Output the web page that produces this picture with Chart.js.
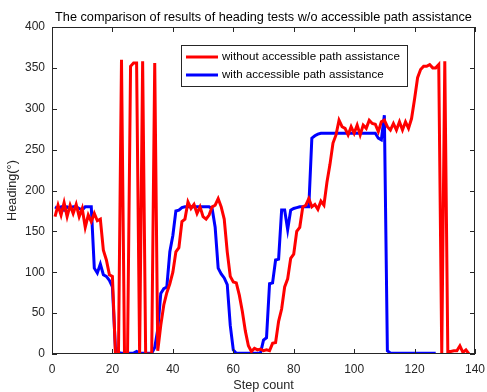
<!DOCTYPE html>
<html>
<head>
<meta charset="utf-8">
<script src="https://cdn.jsdelivr.net/npm/chart.js@4.4.1/dist/chart.umd.min.js"></script>
<style>
  html, body { margin: 0; padding: 0; background: #fff; }
  canvas { display: block; }
</style>
</head>
<body>
<canvas id="headingChart" width="487" height="392"></canvas>
<script>
const titleText = 'The comparison of results of heading tests w/o accessible path assistance';
const xLabel = 'Step count';
const yLabel = 'Heading(°)';

// heading readings, one per step starting at step 1
const withoutAssist = [
  168, 182, 170, 185, 168, 182, 172, 183, 168, 178,
  155, 170, 162, 172, 163, 165, 127, 115, 97, 95,
  0, 0, 360, 0, 0, 352, 356, 356, 0, 358,
  0, 0, 0, 356, 4, 35, 60, 75, 86, 100,
  125, 130, 162, 165, 186, 178, 183, 172, 180, 168,
  165, 170, 180, 182, 190, 180, 165, 125, 95, 88,
  87, 72, 52, 28, 10, 3, 7, 5, 6, 4,
  5, 4, 13, 14, 40, 55, 82, 92, 117, 122,
  150, 155, 180, 182, 190, 180, 183, 177, 187, 182,
  210, 232, 258, 268, 286, 278, 276, 268, 278, 270,
  280, 268, 280, 276, 286, 282, 281, 272, 284, 286,
  278, 274, 282, 274, 284, 274, 284, 276, 288, 312,
  338, 348, 352, 352, 354, 350, 350, 354, 0, 358,
  3, 3, 4, 4, 10, 2, 5, 0
];

const withAssist = [
  180, 178, 180, 176, 180, 178, 180, 180, 178, 176,
  180, 180, 180, 105, 99, 110, 97, 95, 90, 82,
  6, 2, 1, 1, 1, 1, 1, 3, 1, 1,
  1, 1, 1, 8, 30, 74, 80, 82, 125, 145,
  175, 176, 179, 180, 180, 180, 180, 180, 180, 180,
  180, 180, 178, 155, 105, 98, 93, 85, 35, 5,
  1, 1, 1, 1, 1, 1, 1, 1, 1, 17,
  20, 86, 87, 115, 116, 176, 176, 152, 176, 178,
  179, 180, 180, 180, 180, 264, 267, 269, 270, 270,
  270, 270, 270, 270, 270, 270, 270, 270, 270, 270,
  270, 270, 270, 270, 270, 270, 270, 264, 262, 292,
  4, 1, 1, 1, 1, 1, 1, 1, 1, 1,
  1, 1, 1, 1, 1, 1, 1
];

const toPoints = (arr) => arr.map((v, i) => ({ x: i + 1, y: v }));

const axisColor = '#262626';
const fontFamily = '"Liberation Sans", Arial, Helvetica, sans-serif';

// MATLAB style box, inward ticks, titles and legend
const matlabFrame = {
  id: 'matlabFrame',
  afterDraw(chart) {
    const { ctx, chartArea: a, scales } = chart;
    ctx.save();
    ctx.strokeStyle = axisColor;
    ctx.lineWidth = 1;
    ctx.strokeRect(a.left + 0.5, a.top + 0.5, a.right - a.left - 1, a.bottom - a.top - 1);

    const tl = 5;
    ctx.beginPath();
    scales.x.ticks.forEach(t => {
      const px = Math.round(scales.x.getPixelForValue(t.value)) + 0.5;
      ctx.moveTo(px, a.bottom); ctx.lineTo(px, a.bottom - tl);
      ctx.moveTo(px, a.top); ctx.lineTo(px, a.top + tl);
    });
    scales.y.ticks.forEach(t => {
      const py = Math.round(scales.y.getPixelForValue(t.value)) + 0.5;
      ctx.moveTo(a.left, py); ctx.lineTo(a.left + tl, py);
      ctx.moveTo(a.right, py); ctx.lineTo(a.right - tl, py);
    });
    ctx.stroke();

    ctx.fillStyle = '#000';
    ctx.font = '12.7px ' + fontFamily;
    ctx.textAlign = 'center';
    ctx.textBaseline = 'middle';
    ctx.fillText(titleText, (a.left + a.right) / 2, 17);

    ctx.fillStyle = axisColor;
    ctx.fillText(xLabel, (a.left + a.right) / 2, 385);
    ctx.save();
    ctx.translate(12, (a.top + a.bottom) / 2);
    ctx.rotate(-Math.PI / 2);
    ctx.fillText(yLabel, 0, 0);
    ctx.restore();

    // legend box
    const bx = 181, by = 45, bw = 226, bh = 41;
    ctx.fillStyle = '#fff';
    ctx.fillRect(bx, by, bw, bh);
    ctx.strokeStyle = axisColor;
    ctx.strokeRect(bx + 0.5, by + 0.5, bw, bh);
    ctx.textAlign = 'left';
    ctx.font = '11.6px ' + fontFamily;
    chart.data.datasets.forEach((ds, i) => {
      const ly = 57 + i * 18;
      ctx.strokeStyle = ds.borderColor;
      ctx.lineWidth = 3;
      ctx.beginPath();
      ctx.moveTo(186, ly); ctx.lineTo(218, ly);
      ctx.stroke();
      ctx.fillStyle = '#000';
      ctx.fillText(ds.label, 222, ly);
    });
    ctx.restore();
  }
};

new Chart(document.getElementById('headingChart'), {
  type: 'line',
  data: {
    datasets: [
      {
        label: 'without accessible path assistance',
        data: toPoints(withoutAssist),
        borderColor: '#ff0000',
        borderWidth: 3,
        pointRadius: 0,
        tension: 0
      },
      {
        label: 'with accessible path assistance',
        data: toPoints(withAssist),
        borderColor: '#0000ff',
        borderWidth: 3,
        pointRadius: 0,
        tension: 0
      }
    ]
  },
  options: {
    responsive: false,
    devicePixelRatio: 1,
    animation: false,
    layout: { padding: { top: 27, right: 12, left: 0, bottom: 0 } },
    scales: {
      x: {
        type: 'linear',
        min: 0,
        max: 140,
        afterFit: (s) => { s.height = 38; s.paddingLeft = 0; s.paddingRight = 0; },
        grid: { display: false, drawTicks: false },
        border: { display: false },
        ticks: {
          stepSize: 20,
          padding: 8,
          maxRotation: 0,
          color: axisColor,
          font: { family: fontFamily, size: 12 }
        }
      },
      y: {
        min: 0,
        max: 400,
        afterFit: (s) => { s.width = 52; s.paddingTop = 0; s.paddingBottom = 0; },
        grid: { display: false, drawTicks: false },
        border: { display: false },
        ticks: {
          stepSize: 50,
          padding: 7,
          color: axisColor,
          font: { family: fontFamily, size: 12 }
        }
      }
    },
    plugins: {
      legend: { display: false },
      tooltip: { enabled: false }
    }
  },
  plugins: [matlabFrame]
});
</script>
</body>
</html>
